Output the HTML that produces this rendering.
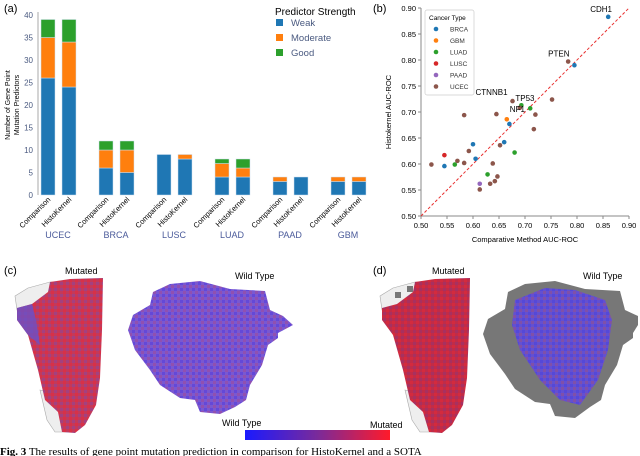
<!DOCTYPE html>
<html><head><meta charset="utf-8"><style>
body{margin:0;background:#fff;}
svg{display:block;font-family:"Liberation Sans","DejaVu Sans",sans-serif;}
</style></head><body>
<svg id="fig" width="640" height="456" viewBox="0 0 640 456">
<defs>
<linearGradient id="cb" x1="0" x2="1"><stop offset="0" stop-color="#1a1aff"/><stop offset="0.5" stop-color="#7a2a9a"/><stop offset="1" stop-color="#ff1a2a"/></linearGradient>
<pattern id="pm" width="6" height="6" patternUnits="userSpaceOnUse"><rect width="6" height="6" fill="#c23a5a"/><rect x="0" y="0" width="3" height="3" fill="#a44080"/><rect x="3" y="3" width="3" height="3" fill="#d83048"/></pattern>
<pattern id="pw" width="6" height="6" patternUnits="userSpaceOnUse"><rect width="6" height="6" fill="#7a58d0"/><rect x="0" y="0" width="3" height="3" fill="#6448d8"/><rect x="3" y="3" width="3" height="3" fill="#9050b0"/></pattern>
<pattern id="pm2" width="6" height="6" patternUnits="userSpaceOnUse"><rect width="6" height="6" fill="#c02c48"/><rect x="0" y="0" width="3" height="3" fill="#a83060"/><rect x="3" y="3" width="3" height="3" fill="#d42a3e"/></pattern>
<pattern id="pw2" width="6" height="6" patternUnits="userSpaceOnUse"><rect width="6" height="6" fill="#6450d0"/><rect x="0" y="0" width="3" height="3" fill="#5548d8"/><rect x="3" y="3" width="3" height="3" fill="#8050a8"/></pattern>
</defs>
<g id="pa"></g>
<g id="pb"></g>
<g id="pc">
<g id="cmut">
<polygon points="15,296 28,288 50,282 60,282 56,300 30,305 17,310" fill="#eee" stroke="#aaa" stroke-width="0.6"/>
<polygon points="40,390 60,395 70,432 55,432 47,420" fill="#eee" stroke="#aaa" stroke-width="0.6"/>
<polygon points="50,282 70,279 103,278 102,330 100,378 96,405 85,425 75,433 62,432 58,412 45,400 38,370 28,335 17,320 17,308 32,304 48,292" fill="url(#pm)"/>
<polygon points="17,308 32,304 36,320 40,345 28,335 17,320" fill="#6a50c8" opacity="0.8"/>
</g>
<polygon points="153,292 170,284 200,281 230,289 265,291 270,310 283,316 293,325 278,333 278,338 268,345 262,365 250,385 246,400 235,407 220,414 200,412 195,400 180,398 160,385 150,370 135,350 128,330 133,315 150,305" fill="url(#pw)"/>
<g transform="translate(365,0)">
<polygon points="15,296 28,288 50,282 60,282 56,300 30,305 17,310" fill="#eee" stroke="#aaa" stroke-width="0.6"/>
<polygon points="40,390 60,395 70,432 55,432 47,420" fill="#eee" stroke="#aaa" stroke-width="0.6"/>
<rect x="30" y="292" width="6" height="6" fill="#777"/><rect x="42" y="286" width="6" height="6" fill="#777"/>
<polygon points="50,282 70,279 105,278 104,330 102,378 98,405 87,425 77,433 64,432 58,412 45,400 38,370 28,335 17,320 17,308 32,304 48,292" fill="url(#pm2)"/>
</g>
<polygon points="508,292 525,284 555,281 585,289 620,291 625,310 638,316 638,325 633,333 633,338 623,345 617,365 605,385 601,400 590,407 575,418 555,416 550,404 535,402 515,389 505,374 490,354 483,334 488,319 505,309" fill="#777"/>
<polygon points="515,300 545,288 575,290 605,300 612,320 608,350 598,380 580,405 560,400 540,380 520,350 512,325" fill="url(#pw2)"/>
<text x="4" y="274" font-size="11">(c)</text>
<text x="65" y="274" font-size="9">Mutated</text>
<text x="235" y="279" font-size="9">Wild Type</text>
<text x="373" y="274" font-size="11">(d)</text>
<text x="432" y="274" font-size="9">Mutated</text>
<text x="583" y="279" font-size="9">Wild Type</text>
<text x="222" y="426" font-size="9">Wild Type</text>
<text x="370" y="428" font-size="9">Mutated</text>
<rect x="245" y="430" width="145" height="10" fill="url(#cb)"/>
</g>
<text x="0" y="455" font-size="11" font-family="Liberation Serif"><tspan font-weight="bold">Fig. 3</tspan>  The results of gene point mutation prediction in comparison for HistoKernel and a SOTA</text>
</svg>
<script>
const NS="http://www.w3.org/2000/svg";
function mk(p,t,a,txt){const e=document.createElementNS(NS,t);for(const k in a)e.setAttribute(k,a[k]);if(txt!=null)e.textContent=txt;p.appendChild(e);return e;}
// Panel A data
const cancers=["UCEC","BRCA","LUSC","LUAD","PAAD","GBM"];
const methods=["Comparison","HistoKernel"];
const weakComp=[26,6,9,4,3,3];
const modComp=[9,4,0,3,1,1];
const goodComp=[4,2,0,1,0,0];
const weakHist=[24,5,8,4,4,3];
const modHist=[10,5,1,2,0,1];
const goodHist=[5,2,0,2,0,0];
const yTicksA=[0,5,10,15,20,25,30,35,40];
const strengths=["Weak","Moderate","Good"];
const colA=["#1f77b4","#ff7f0e","#2ca02c"];
const pa=document.getElementById('pa');
const yA=v=>195-v*4.5;
const xA=(g,m)=>41+g*58+m*21;
mk(pa,'text',{x:4,y:12,'font-size':11},'(a)');
mk(pa,'line',{x1:38,y1:12,x2:38,y2:195,stroke:'#aaa'});
yTicksA.forEach(t=>{const l=mk(pa,'text',{x:33,y:yA(t)+3,'font-size':8,fill:'#4a5a80','text-anchor':'end'},t);

});
const yt=mk(pa,'text',{transform:'translate(10,105) rotate(-90)','font-size':7,'text-anchor':'middle'});


mk(yt,'tspan',{x:0,dy:0},'Number of Gene Point');mk(yt,'tspan',{x:0,dy:9},'Mutation Predictors');
cancers.forEach((c,g)=>{
 [[weakComp,modComp,goodComp],[weakHist,modHist,goodHist]].forEach((set,m)=>{
  let base=0;
  set.forEach((arr,s)=>{const v=arr[g];if(v>0){const r=mk(pa,'rect',{x:xA(g,m),y:yA(base+v),width:14,height:v*4.5,fill:colA[s],stroke:'#cfe0f0','stroke-width':0.5});
   
   }base+=v;});
  const tx=xA(g,m)+10;
  const t=mk(pa,'text',{x:tx,y:200,'font-size':7.5,'text-anchor':'end',transform:`rotate(-45 ${tx} 200)`},methods[m]);
  
  
 });
 const cl=mk(pa,'text',{x:xA(g,0)+17,y:238,'font-size':9,fill:'#4a5a9a','text-anchor':'middle'},c);
 
 
});
mk(pa,'text',{x:275,y:15,'font-size':10},'Predictor Strength');
strengths.forEach((s,i)=>{const lg=mk(pa,'g',{});
 
 
 mk(lg,'rect',{x:276,y:19+i*15,width:7,height:7,fill:colA[i]});mk(lg,'text',{x:291,y:26+i*15,'font-size':9.5,fill:'#4a5a80'},s);});
// Panel B data
const typesB=["BRCA","GBM","LUAD","LUSC","PAAD","UCEC"];
const colB=["#1f77b4","#ff7f0e","#2ca02c","#d62728","#9467bd","#8c564b"];
const xBRCA=[0.86,0.795,0.67,0.66,0.60,0.605,0.545];
const yBRCA=[0.883,0.79,0.677,0.642,0.638,0.61,0.596];
const xGBM=[0.665];const yGBM=[0.686];
const xLUAD=[0.693,0.71,0.68,0.628,0.565];
const yLUAD=[0.713,0.707,0.622,0.58,0.599];
const xLUSC=[0.545];const yLUSC=[0.617];
const xPAAD=[0.613];const yPAAD=[0.562];
const xUCEC=[0.783,0.676,0.69,0.752,0.72,0.717,0.645,0.583,0.652,0.592,0.57,0.583,0.52,0.638,0.647,0.642,0.633,0.613];
const yUCEC=[0.797,0.721,0.708,0.724,0.695,0.667,0.696,0.694,0.636,0.625,0.606,0.602,0.599,0.601,0.576,0.567,0.562,0.551];
const ticksB=[0.5,0.55,0.6,0.65,0.7,0.75,0.8,0.85,0.9];
const geneNames=["CDH1","PTEN","CTNNB1","TP53","NF1"];
const geneX=[0.86,0.783,0.676,0.693,0.69];
const geneY=[0.883,0.797,0.721,0.713,0.708];
const pb=document.getElementById('pb');
const xB=v=>421+(v-0.5)/0.4*208, yB=v=>216-(v-0.5)/0.4*208;
mk(pb,'text',{x:373,y:12,'font-size':11},'(b)');
mk(pb,'line',{x1:421,y1:8,x2:421,y2:216,stroke:'#888'});
mk(pb,'line',{x1:421,y1:216,x2:629,y2:216,stroke:'#888'});
ticksB.forEach(t=>{
 mk(pb,'line',{x1:xB(t),y1:216,x2:xB(t),y2:219,stroke:'#888'});mk(pb,'line',{x1:418,y1:yB(t),x2:421,y2:yB(t),stroke:'#888'});
 const a=mk(pb,'text',{x:xB(t),y:228,'font-size':7.5,'text-anchor':'middle'},t.toFixed(2));
 
 const b=mk(pb,'text',{x:416,y:yB(t)+3,'font-size':7.5,'text-anchor':'end'},t.toFixed(2));
 
});
const dl=mk(pb,'line',{x1:xB(0.5),y1:yB(0.5),x2:xB(0.9),y2:yB(0.9),stroke:'#e83030','stroke-dasharray':'3,2','stroke-width':1});

const xt=mk(pb,'text',{x:525,y:242,'font-size':7.5,'text-anchor':'middle'},'Comparative Method AUC-ROC');

const ytb=mk(pb,'text',{transform:'translate(391,112) rotate(-90)','font-size':7.5,'text-anchor':'middle'},'Histokernel AUC-ROC');

const XS=[xBRCA,xGBM,xLUAD,xLUSC,xPAAD,xUCEC],YS=[yBRCA,yGBM,yLUAD,yLUSC,yPAAD,yUCEC];
XS.forEach((xs,k)=>xs.forEach((x,i)=>{const c=mk(pb,'circle',{cx:xB(x),cy:yB(YS[k][i]),r:2.3,fill:colB[k]});
 }));
const off=[[-18,-5],[-20,-5],[-37,-6],[-6,-4],[-10,4]];
geneNames.forEach((g,i)=>{const t=mk(pb,'text',{x:xB(geneX[i])+off[i][0],y:yB(geneY[i])+off[i][1],'font-size':8},g);
 });
const lb=mk(pb,'g',{});
mk(lb,'rect',{x:425,y:10,width:49,height:85,fill:'#fff',stroke:'#ccc','stroke-width':0.7,rx:2});
mk(lb,'text',{x:429,y:20,'font-size':6.5},'Cancer Type');
typesB.forEach((t,i)=>{mk(lb,'circle',{cx:436,cy:29+i*11.5,r:2.3,fill:colB[i]});mk(lb,'text',{x:450,y:31.5+i*11.5,'font-size':6.5,fill:'#333'},t);});
</script>
</body></html>
